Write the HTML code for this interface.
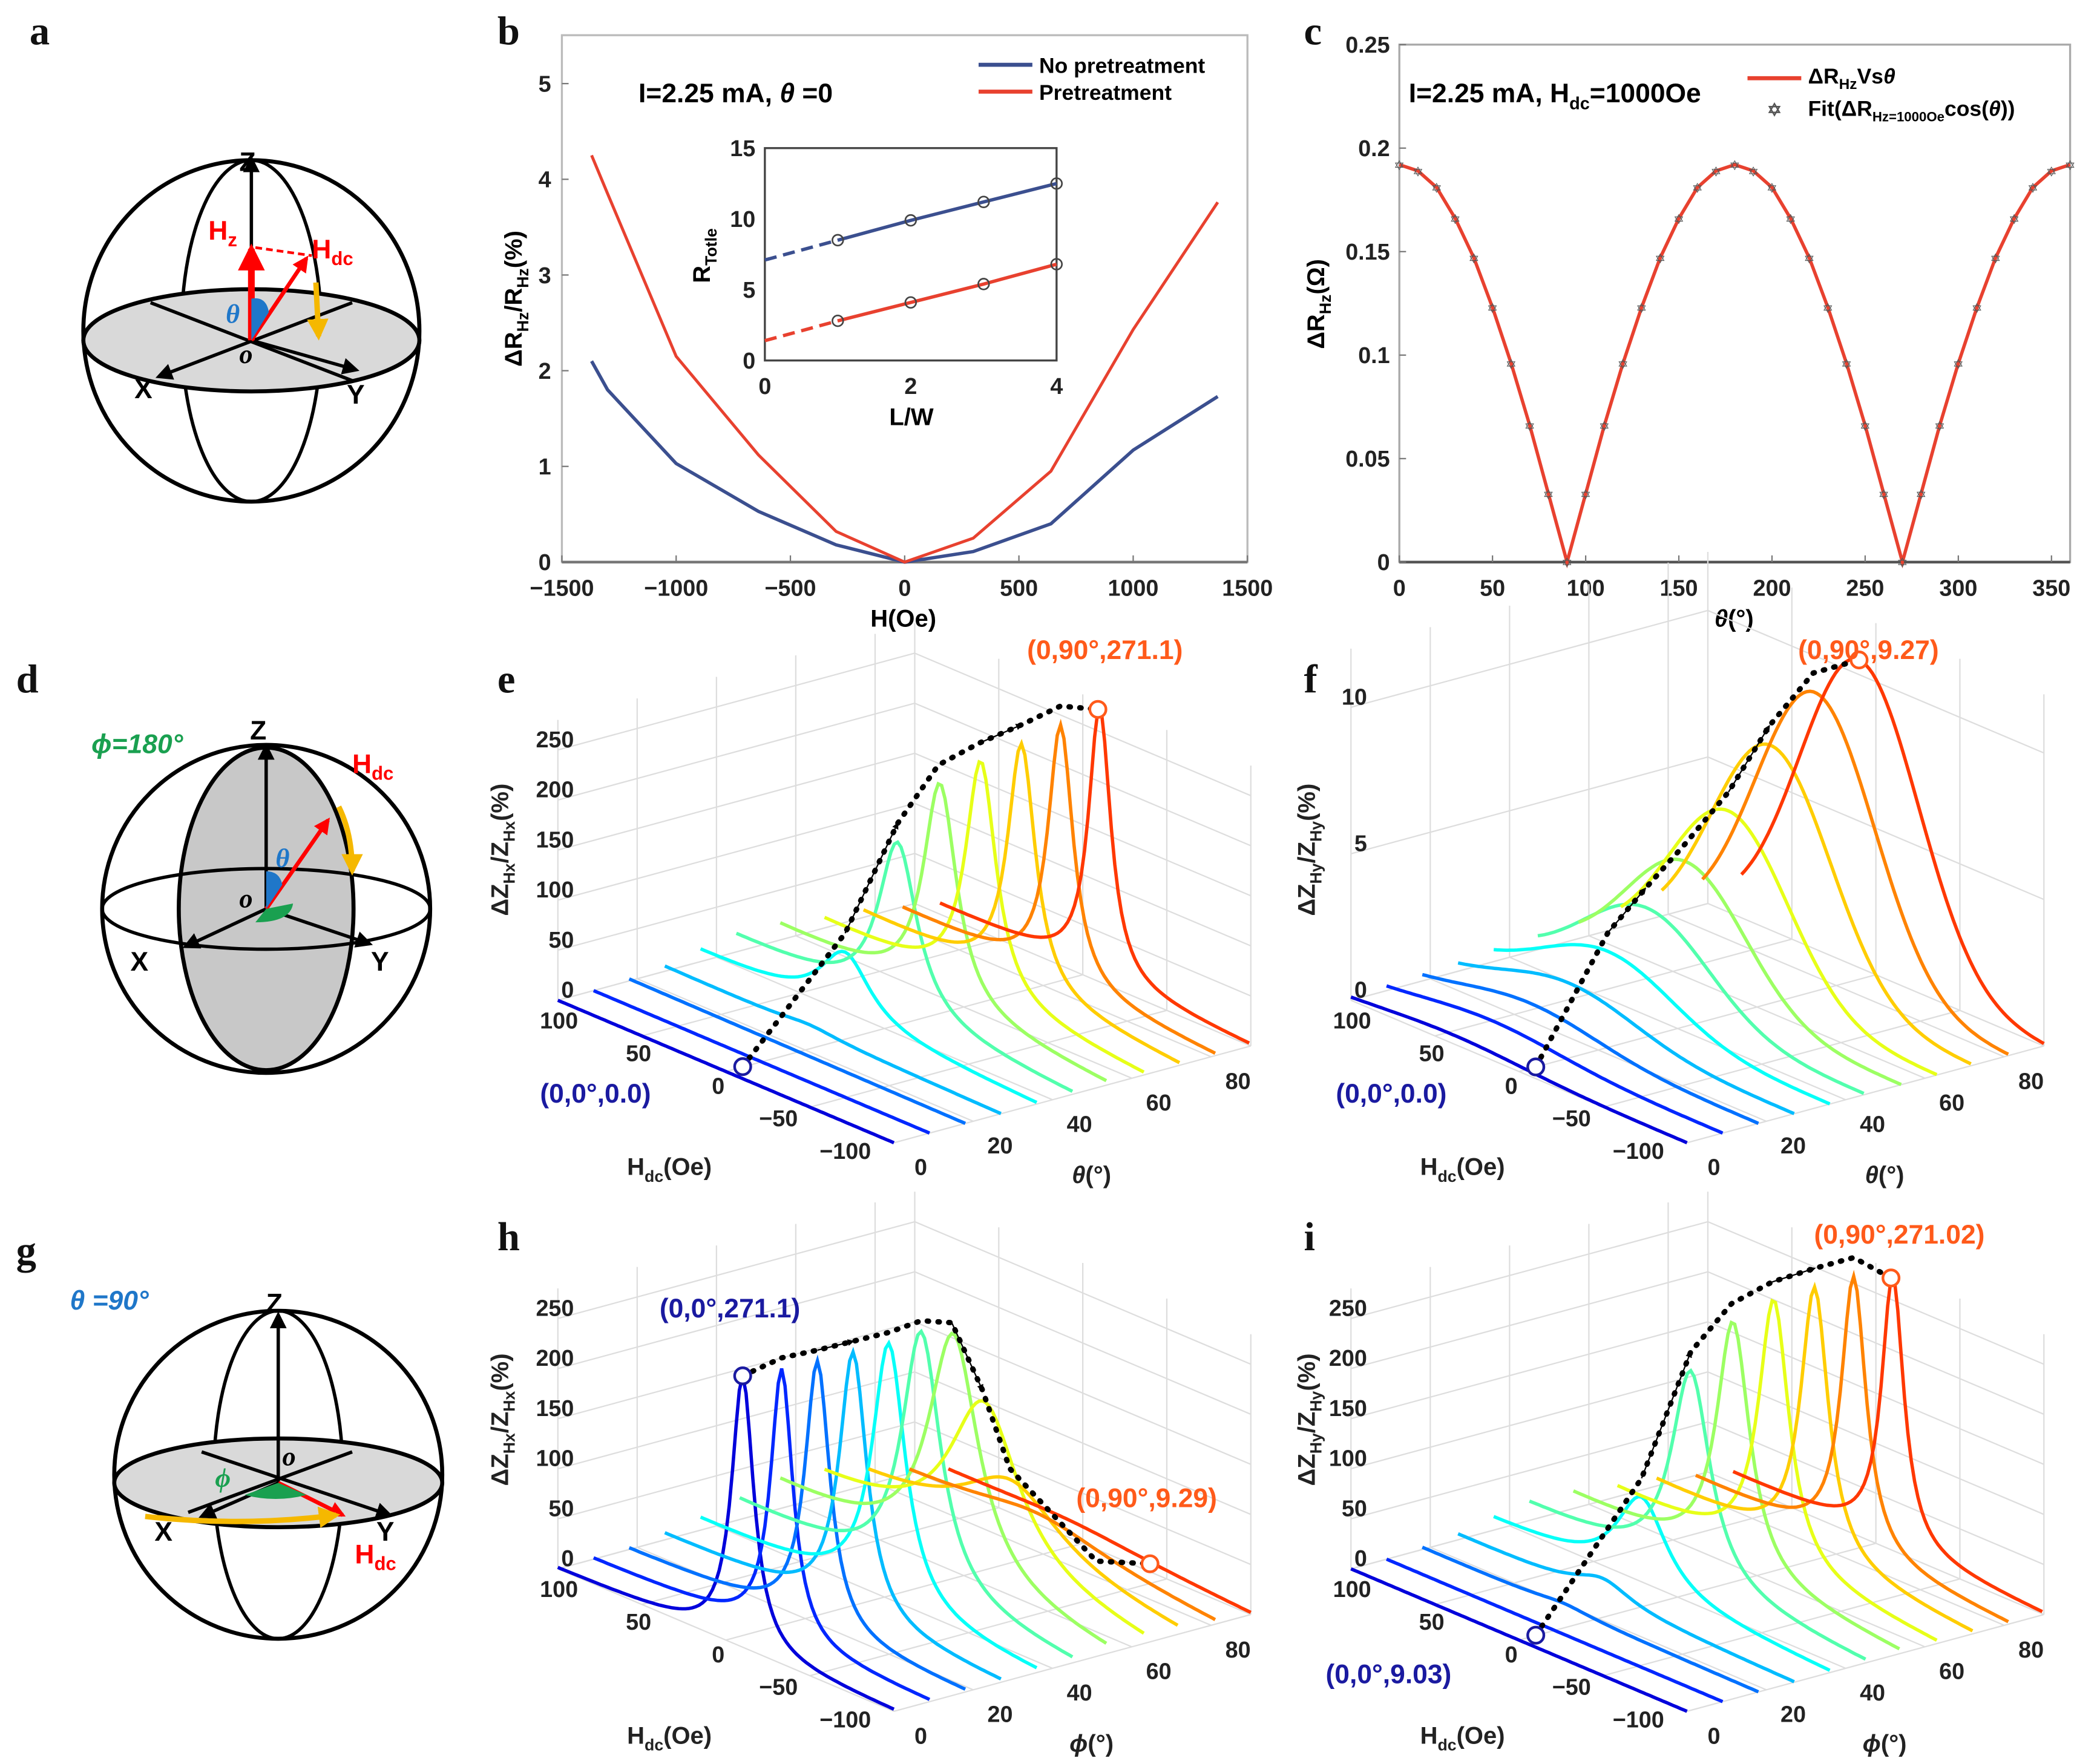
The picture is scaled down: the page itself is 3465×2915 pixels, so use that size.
<!DOCTYPE html>
<html><head><meta charset="utf-8"><style>
html,body{margin:0;padding:0;background:#fff;}
svg{display:block;font-family:"Liberation Sans",sans-serif;}
.t{font-size:17px;font-weight:bold;fill:#222;}
.L{font-family:"Liberation Serif",serif;font-size:30px;font-weight:bold;fill:#111;}
</style></head><body>
<svg id="fig" width="3465" height="2915" viewBox="0 0 1560 1312" xmlns="http://www.w3.org/2000/svg">
<rect width="1560" height="1312" fill="#fff"/>
<g>
<text class="L" x="22" y="33">a</text>
<text class="L" x="370" y="33">b</text>
<text class="L" x="970" y="33">c</text>
<text class="L" x="12" y="515">d</text>
<text class="L" x="370" y="515">e</text>
<text class="L" x="970" y="515">f</text>
<text class="L" x="12" y="940">g</text>
<text class="L" x="370" y="930">h</text>
<text class="L" x="970" y="930">i</text>
</g>
<defs>
<marker id="ab" viewBox="0 0 10 10" refX="8" refY="5" markerWidth="5" markerHeight="5" orient="auto"><path d="M0,0L10,5L0,10z" fill="#000"/></marker>
<marker id="ar" viewBox="0 0 10 10" refX="8" refY="5" markerWidth="4" markerHeight="4" orient="auto"><path d="M0,0L10,5L0,10z" fill="#f00"/></marker>
<marker id="ay" viewBox="0 0 10 10" refX="8" refY="5" markerWidth="4" markerHeight="4" orient="auto"><path d="M0,0L10,5L0,10z" fill="#f5b800"/></marker>
</defs>
<g stroke="#000" stroke-width="3" fill="none">
<ellipse cx="187" cy="246" rx="125" ry="127"/>
<ellipse cx="187" cy="246" rx="52" ry="127" stroke-width="2.5"/>
<ellipse cx="187" cy="253" rx="125" ry="38" fill="#d9d9d9"/>
<line x1="112" y1="225" x2="262" y2="283" stroke-width="2.5"/>
<line x1="262" y1="225" x2="118" y2="280" stroke-width="2.5" marker-end="url(#ab)"/>
<line x1="187" y1="253" x2="265" y2="275" stroke-width="2.5" marker-end="url(#ab)"/>
<line x1="187" y1="253" x2="187" y2="118" stroke-width="2.5" marker-end="url(#ab)"/>
<line x1="187" y1="253" x2="187" y2="185" stroke="#f00" stroke-width="5" marker-end="url(#ar)"/>
<line x1="187" y1="253" x2="228" y2="192" stroke="#f00" stroke-width="3" marker-end="url(#ar)"/>
<line x1="190" y1="184" x2="232" y2="190" stroke="#f00" stroke-width="2" stroke-dasharray="5,3"/>
<line x1="235" y1="210" x2="237" y2="250" stroke="#f5b800" stroke-width="4" marker-end="url(#ay)"/>
<path d="M187,222 Q198,220 200,232 L187,253z" fill="#1f77c9" stroke="none"/>
</g>
<g font-weight="bold" font-size="20">
<text x="178" y="127">Z</text><text x="100" y="296">X</text><text x="258" y="300">Y</text>
<text x="178" y="270" font-style="italic" font-family="Liberation Serif">o</text>
<text x="168" y="240" fill="#1f77c9" font-style="italic" font-family="Liberation Serif">θ</text>
<text x="155" y="178" fill="#f00">H<tspan font-size="14" dy="5">z</tspan></text>
<text x="232" y="192" fill="#f00">H<tspan font-size="14" dy="5">dc</tspan></text>
</g>
<g stroke="#000" stroke-width="3" fill="none">
<ellipse cx="198" cy="676" rx="122" ry="122"/>
<ellipse cx="198" cy="676" rx="65" ry="120" fill="#c8c8c8"/>
<ellipse cx="198" cy="676" rx="122" ry="30" stroke-width="2.5"/>
<line x1="198" y1="676" x2="198" y2="555" stroke-width="2.5" marker-end="url(#ab)"/>
<line x1="198" y1="676" x2="138" y2="704" stroke-width="2.5" marker-end="url(#ab)"/>
<line x1="198" y1="676" x2="275" y2="702" stroke-width="2.5" marker-end="url(#ab)"/>
<line x1="198" y1="676" x2="244" y2="610" stroke="#f00" stroke-width="3" marker-end="url(#ar)"/>
<path d="M252,600 Q262,620 262,648" stroke="#f5b800" stroke-width="4" marker-end="url(#ay)"/>
<path d="M198,648 Q208,648 210,658 L198,676z" fill="#1f77c9" stroke="none"/>
<path d="M198,676 L218,672 Q216,686 190,686z" fill="#1aa050" stroke="none"/>
</g>
<g font-weight="bold" font-size="20">
<text x="186" y="550">Z</text><text x="97" y="722">X</text><text x="276" y="722">Y</text>
<text x="178" y="675" font-style="italic" font-family="Liberation Serif">o</text>
<text x="205" y="645" fill="#1f77c9" font-style="italic" font-family="Liberation Serif">θ</text>
<text x="262" y="575" fill="#f00">H<tspan font-size="14" dy="5">dc</tspan></text>
<text x="68" y="560" fill="#1aa050" font-style="italic">ϕ=180°</text>
</g>
<g stroke="#000" stroke-width="3" fill="none">
<ellipse cx="207" cy="1097" rx="122" ry="122"/>
<ellipse cx="207" cy="1097" rx="48" ry="122" stroke-width="2.5"/>
<ellipse cx="207" cy="1103" rx="122" ry="33" fill="#d9d9d9"/>
<line x1="207" y1="1103" x2="207" y2="978" stroke-width="2.5" marker-end="url(#ab)"/>
<line x1="207" y1="1103" x2="150" y2="1128" stroke-width="2.5" marker-end="url(#ab)"/>
<line x1="150" y1="1080" x2="290" y2="1127" stroke-width="2.5" marker-end="url(#ab)"/>
<line x1="262" y1="1080" x2="140" y2="1125" stroke-width="2.5"/>
<line x1="207" y1="1103" x2="255" y2="1127" stroke="#f00" stroke-width="3" marker-end="url(#ar)"/>
<path d="M108,1128 Q180,1136 250,1127" stroke="#f5b800" stroke-width="4" marker-end="url(#ay)"/>
<path d="M207,1103 L182,1112 Q205,1118 228,1112z" fill="#1aa050" stroke="none"/>
</g>
<g font-weight="bold" font-size="20">
<text x="198" y="976">Z</text><text x="115" y="1146">X</text><text x="280" y="1146">Y</text>
<text x="210" y="1090" font-style="italic" font-family="Liberation Serif">o</text>
<text x="160" y="1106" fill="#1aa050" font-style="italic" font-family="Liberation Serif">ϕ</text>
<text x="264" y="1163" fill="#f00">H<tspan font-size="14" dy="5">dc</tspan></text>
<text x="52" y="974" fill="#1f77c9" font-style="italic">θ =90°</text>
</g>
<g font-weight="bold">
<text x="475" y="76" font-size="20">I=2.25 mA, <tspan font-style="italic">θ</tspan> =0</text>
<line x1="728" y1="48" x2="768" y2="48" stroke="#3b4f8f" stroke-width="3"/>
<text x="773" y="54" font-size="16">No pretreatment</text>
<line x1="728" y1="68" x2="768" y2="68" stroke="#e8412f" stroke-width="3"/>
<text x="773" y="74" font-size="16">Pretreatment</text>
<text x="672" y="466" font-size="18" text-anchor="middle">H(Oe)</text>
<text transform="translate(388,222) rotate(-90)" font-size="18" text-anchor="middle">ΔR<tspan font-size="12" dy="5">Hz</tspan><tspan dy="-5">/R</tspan><tspan font-size="12" dy="5">Hz</tspan><tspan dy="-5">(%)</tspan></text>
<text x="678" y="316" font-size="18" text-anchor="middle">L/W</text>
<text transform="translate(528,190) rotate(-90)" font-size="18" text-anchor="middle">R<tspan font-size="12" dy="5">Totle</tspan></text>
</g>
<g font-weight="bold">
<text x="1048" y="76" font-size="20">I=2.25 mA, H<tspan font-size="13" dy="5">dc</tspan><tspan dy="-5">=1000Oe</tspan></text>
<line x1="1300" y1="58" x2="1340" y2="58" stroke="#e8412f" stroke-width="3"/>
<text x="1345" y="62" font-size="16">ΔR<tspan font-size="11" dy="4">Hz</tspan><tspan dy="-4">Vs</tspan><tspan font-style="italic">θ</tspan></text>
<text x="1320" y="86" font-size="13" text-anchor="middle" fill="#555">✡</text>
<text x="1345" y="86" font-size="16">Fit(ΔR<tspan font-size="10" dy="4">Hz=1000Oe</tspan><tspan dy="-4">cos(</tspan><tspan font-style="italic">θ</tspan>))</text>
<text x="1290" y="466" font-size="18" text-anchor="middle"><tspan font-style="italic">θ</tspan>(°)</text>
<text transform="translate(985,226) rotate(-90)" font-size="18" text-anchor="middle">ΔR<tspan font-size="12" dy="5">Hz</tspan><tspan dy="-5">(Ω)</tspan></text>
</g>
<g font-weight="bold" font-size="18" fill="#222">
<text x="498" y="874" text-anchor="middle">H<tspan font-size="12" dy="5">dc</tspan><tspan dy="-5">(Oe)</tspan></text>
<text x="812" y="880" text-anchor="middle"><tspan font-style="italic">θ</tspan>(°)</text>
<text transform="translate(378,632) rotate(-90)" text-anchor="middle">ΔZ<tspan font-size="12" dy="5">Hx</tspan><tspan dy="-5">/Z</tspan><tspan font-size="12" dy="5">Hx</tspan><tspan dy="-5">(%)</tspan></text>
<text x="1088" y="874" text-anchor="middle">H<tspan font-size="12" dy="5">dc</tspan><tspan dy="-5">(Oe)</tspan></text>
<text x="1402" y="880" text-anchor="middle"><tspan font-style="italic">θ</tspan>(°)</text>
<text transform="translate(978,632) rotate(-90)" text-anchor="middle">ΔZ<tspan font-size="12" dy="5">Hy</tspan><tspan dy="-5">/Z</tspan><tspan font-size="12" dy="5">Hy</tspan><tspan dy="-5">(%)</tspan></text>
<text x="498" y="1297" text-anchor="middle">H<tspan font-size="12" dy="5">dc</tspan><tspan dy="-5">(Oe)</tspan></text>
<text x="812" y="1303" text-anchor="middle"><tspan font-style="italic">ϕ</tspan>(°)</text>
<text transform="translate(378,1056) rotate(-90)" text-anchor="middle">ΔZ<tspan font-size="12" dy="5">Hx</tspan><tspan dy="-5">/Z</tspan><tspan font-size="12" dy="5">Hx</tspan><tspan dy="-5">(%)</tspan></text>
<text x="1088" y="1297" text-anchor="middle">H<tspan font-size="12" dy="5">dc</tspan><tspan dy="-5">(Oe)</tspan></text>
<text x="1402" y="1303" text-anchor="middle"><tspan font-style="italic">ϕ</tspan>(°)</text>
<text transform="translate(978,1056) rotate(-90)" text-anchor="middle">ΔZ<tspan font-size="12" dy="5">Hy</tspan><tspan dy="-5">/Z</tspan><tspan font-size="12" dy="5">Hy</tspan><tspan dy="-5">(%)</tspan></text>
</g>
<g id="gb"></g>
<g id="gc"></g>
<g id="g3"></g>
<g font-weight="bold" font-size="20">
<text x="822" y="490" fill="#ff5a1a" text-anchor="middle">(0,90°,271.1)</text>
<text x="443" y="820" fill="#1a1aa0" text-anchor="middle">(0,0°,0.0)</text>
<text x="1390" y="490" fill="#ff5a1a" text-anchor="middle">(0,90°,9.27)</text>
<text x="1035" y="820" fill="#1a1aa0" text-anchor="middle">(0,0°,0.0)</text>
<text x="543" y="980" fill="#1a1aa0" text-anchor="middle">(0,0°,271.1)</text>
<text x="853" y="1121" fill="#ff5a1a" text-anchor="middle">(0,90°,9.29)</text>
<text x="1413" y="925" fill="#ff5a1a" text-anchor="middle">(0,90°,271.02)</text>
<text x="1033" y="1252" fill="#1a1aa0" text-anchor="middle">(0,0°,9.03)</text>
</g>
<script>
const bH = [-1370,-1300,-1000,-640,-300,0,300,640,1000,1370];
const bNo = [2.1,1.8,1.03,0.53,0.18,0,0.11,0.4,1.17,1.73];
const bPre = [4.25,3.85,2.15,1.12,0.32,0,0.25,0.95,2.43,3.76];
const bXTicks = [-1500,-1000,-500,0,500,1000,1500];
const bYTicks = [0,1,2,3,4,5];
const inLW = [1,2,3,4];
const inUpper = [8.5,9.9,11.2,12.5];
const inLower = [2.8,4.1,5.4,6.8];
const inUpper0 = 7.1, inLower0 = 1.4;
const inXTicks = [0,2,4];
const inYTicks = [0,5,10,15];
const cTheta = [0,10,20,30,40,50,60,70,80,90,100,110,120,130,140,150,160,170,180,190,200,210,220,230,240,250,260,270,280,290,300,310,320,330,340,350,360];
const cDR = [0.192,0.189,0.181,0.166,0.147,0.123,0.096,0.066,0.033,0,0.033,0.066,0.096,0.123,0.147,0.166,0.181,0.189,0.192,0.189,0.181,0.166,0.147,0.123,0.096,0.066,0.033,0,0.033,0.066,0.096,0.123,0.147,0.166,0.181,0.189,0.192];
const cXTicks = [0,50,100,150,200,250,300,350];
const cYTicks = [0,0.05,0.1,0.15,0.2,0.25];
const angles = [0,9,18,27,36,45,54,63,72,81,90];
const ePeak = [0,0,0,5,65,170,220,235,245,258,271];
const eCenter = [20,18,16,14,14,4,0,-3,-6,-8,-10];
const eWidth = [20,20,20,20,18,14,12,11,10,9,8];
const eStart = [100,100,100,100,100,100,95,90,88,86,85];
const eTail = [0,0,2,5,10,15,20,20,20,15,10];
const fPeak = [0.3,0.5,0.8,1.2,2,3.2,4.5,6,8,9.6,10.5];
const fCenter = [40,38,36,34,32,30,28,24,20,15,10];
const fWidth = [60,58,56,55,54,52,50,50,50,50,50];
const fStart = [100,100,100,100,100,95,92,88,85,82,80];
const hPeak = [271,270,268,265,262,258,240,160,70,25,9.3];
const hCenter = [-10,-12,-12,-12,-12,-10,-8,-5,0,5,10];
const hWidth = [8,8,9,10,12,14,18,25,35,50,60];
const hStart = [100,100,100,100,100,98,95,90,85,82,80];
const hTail = [0,0,0,5,10,20,30,30,25,20,15];
const iPeak = [0,0,5,20,90,210,250,265,270,275,271];
const iCenter = [20,18,16,14,12,4,0,-3,-6,-8,-10];
const iWidth = [20,20,20,20,18,14,12,11,10,9,8];
const iStart = [100,100,100,100,100,100,95,90,88,86,85];
const iTail = [0,0,2,5,10,15,20,20,20,15,10];
const zTicksBig = [0,50,100,150,200,250];
const zTicksF = [0,5,10];
const hTicks = [100,50,0,-50,-100];
const tTicks = [0,20,40,60,80];

const NS="http://www.w3.org/2000/svg";
function add(parent,tag,attrs,name){
  const el=document.createElementNS(NS,tag);
  for(const k in attrs) el.setAttribute(k,attrs[k]);
  
  
  parent.appendChild(el);return el;
}
function txt(parent,x,y,s,anchor,name,extra){
  const el=add(parent,'text',Object.assign({x:x,y:y,'text-anchor':anchor||'middle','class':'t'},extra||{}),name);
  el.textContent=s;return el;
}
function fmt(v){return v<0?'−'+Math.abs(v):String(v);}
const gb=document.getElementById('gb');
const bx=v=>418+(v+1500)*510/3000, by=v=>418-v*71.2;
add(gb,'rect',{x:418,y:26,width:510,height:392,fill:'none',stroke:'#bbb','stroke-width':1.5},'axes-box-b');
add(gb,'line',{x1:418,y1:418,x2:928,y2:418,stroke:'#777','stroke-width':2},'x-axis-b');
bXTicks.forEach(v=>{add(gb,'line',{x1:bx(v),y1:418,x2:bx(v),y2:413,stroke:'#777'},'x-tick-b');txt(gb,bx(v),443,fmt(v),'middle','x-tick-label-b');});
bYTicks.forEach(v=>{add(gb,'line',{x1:418,y1:by(v),x2:423,y2:by(v),stroke:'#777'},'y-tick-b');txt(gb,410,by(v)+6,String(v),'end','y-tick-label-b');});
add(gb,'polyline',{points:bH.map((h,i)=>bx(h)+','+by(bNo[i])).join(' '),fill:'none',stroke:'#3b4f8f','stroke-width':2.5},'line-no-pretreatment');
add(gb,'polyline',{points:bH.map((h,i)=>bx(h)+','+by(bPre[i])).join(' '),fill:'none',stroke:'#e8412f','stroke-width':2.2},'line-pretreatment');
const ix=v=>569+v*217/4, iy=v=>268-v*10.53;
add(gb,'rect',{x:569,y:110,width:217,height:158,fill:'#fff',stroke:'#444','stroke-width':1.5},'inset-box');
inXTicks.forEach(v=>txt(gb,ix(v),293,String(v),'middle','inset-x-tick'));
inYTicks.forEach(v=>txt(gb,562,iy(v)+6,String(v),'end','inset-y-tick'));
[[inUpper0,inUpper,'#3b4f8f','inset-upper-line'],[inLower0,inLower,'#e8412f','inset-lower-line']].forEach(([z0,arr,col,nm])=>{
  add(gb,'line',{x1:ix(0),y1:iy(z0),x2:ix(1),y2:iy(arr[0]),stroke:col,'stroke-width':2.5,'stroke-dasharray':'9,5'},nm+'-dashed');
  add(gb,'polyline',{points:inLW.map((l,i)=>ix(l)+','+iy(arr[i])).join(' '),fill:'none',stroke:col,'stroke-width':2.5},nm);
  inLW.forEach((l,i)=>add(gb,'circle',{cx:ix(l),cy:iy(arr[i]),r:4,fill:'none',stroke:'#444','stroke-width':1.2},'inset-marker'));
});
const gc=document.getElementById('gc');
const cx=v=>1041+v*499/360, cy=v=>418-v*1540;
add(gc,'rect',{x:1041,y:33,width:499,height:385,fill:'none',stroke:'#aaa','stroke-width':1.5},'axes-box-c');
add(gc,'line',{x1:1041,y1:418,x2:1540,y2:418,stroke:'#555','stroke-width':2},'x-axis-c');
cXTicks.forEach(v=>{add(gc,'line',{x1:cx(v),y1:418,x2:cx(v),y2:413,stroke:'#777'},'x-tick-c');txt(gc,cx(v),443,String(v),'middle','x-tick-label-c');});
cYTicks.forEach(v=>{add(gc,'line',{x1:1041,y1:cy(v),x2:1046,y2:cy(v),stroke:'#777'},'y-tick-c');txt(gc,1034,cy(v)+6,String(v),'end','y-tick-label-c');});
add(gc,'polyline',{points:cTheta.map((t,i)=>cx(t)+','+cy(cDR[i])).join(' '),fill:'none',stroke:'#e8412f','stroke-width':2.5},'line-dr-vs-theta');
cTheta.forEach((t,i)=>{txt(gc,cx(t),cy(cDR[i])+4,'✡','middle','fit-marker',{'class':'','font-size':'10',fill:'#555'});});
const g3=document.getElementById('g3');
function jet(v){const c=x=>Math.round(255*Math.max(0,Math.min(1,x)));return 'rgb('+c(1.5-Math.abs(4*v-3))+','+c(1.5-Math.abs(4*v-2))+','+c(1.5-Math.abs(4*v-1))+')';}
function panel(ox,oy,zs,zmax,zticks,peak,center,width,start,tail,gauss,path,z0,name){
  const P=(h,t,z)=>[ox-(h+100)*1.25+t*2.95, oy-(h+100)*0.53-t*0.8-z*zs];
  const g=add(g3,'g',{},name);
  const ln=(a,b,nm)=>add(g,'line',{x1:a[0],y1:a[1],x2:b[0],y2:b[1],stroke:'#ddd','stroke-width':1},nm);
  zticks.forEach(z=>{ln(P(100,0,z),P(100,90,z),'grid-z');ln(P(100,90,z),P(-100,90,z),'grid-z');});
  [0,20,40,60,80].forEach(t=>{ln(P(100,t,0),P(100,t,zmax),'grid-t');ln(P(100,t,0),P(-100,t,0),'grid-floor');});
  [100,50,0,-50,-100].forEach(h=>{ln(P(h,90,0),P(h,90,zmax),'grid-h');ln(P(h,0,0),P(h,90,0),'grid-floor');});
  hTicks.forEach(h=>txt(g,ox-126-1.09*h,oy-36.5-0.485*h,fmt(h),'end','hdc-tick-label'));
  tTicks.forEach(t=>{const p=P(-100,t,0);txt(g,p[0]+20,p[1]+24,String(t),'middle','angle-tick-label');});
  zticks.forEach(z=>{const p=P(100,0,z);txt(g,p[0]+12,p[1]-2,String(z),'end','z-tick-label');});
  const peakPts=[];
  angles.forEach((t,k)=>{
    const pts=[];let best=null;
    for(let h=start[k];h>=-100;h-=2){
      const d=(h-center[k])/width[k];
      let z=gauss?peak[k]*Math.exp(-d*d):peak[k]/(1+d*d);
      if(tail) z+=tail[k]*(h+100)/200;
      const p=P(h,t,z);pts.push(p[0].toFixed(1)+','+p[1].toFixed(1));
      if(!best||z>best.z) best={z:z,p:p};
    }
    peakPts.push(best);
    add(g,'polyline',{points:pts.join(' '),fill:'none',stroke:jet(0.09+k*0.073),'stroke-width':2.5},'curve-angle-'+t);
  });
  const pp=path(P,peakPts,z0);
  add(g,'polyline',{points:pp.map(p=>p[0]+','+p[1]).join(' '),fill:'none',stroke:'#000','stroke-width':4,'stroke-dasharray':'1,7','stroke-linecap':'round'},'trend-path');
  [Math.floor(pp.length/3),Math.floor(2*pp.length/3)].forEach(i=>{const a=pp[i-1],b=pp[i];
    add(g,'line',{x1:a[0],y1:a[1],x2:b[0],y2:b[1],stroke:'#000','stroke-width':1,'marker-end':'url(#ab)'},'trend-arrow');});
  add(g,'circle',{cx:pp[0][0],cy:pp[0][1],r:6,fill:'#fff',stroke:'#1a1aa0','stroke-width':2},'start-marker');
  const e=pp[pp.length-1];
  add(g,'circle',{cx:e[0],cy:e[1],r:6,fill:'#fff',stroke:'#ff5a1a','stroke-width':2},'end-marker');
}
const upPath=(P,pk,z0)=>{const s=P(-10,0,z0);const arr=[s];[4,5,6,7,8,9,10].forEach(k=>{const p=pk[k].p;arr.push([p[0],p[1]-(k<10?14:0)]);});return arr;};
const downPath=(P,pk,z0)=>{const arr=[];[0,1,2,3,4,5,6,7,8].forEach(k=>{const p=pk[k].p;arr.push([p[0],p[1]-(k>0?8:0)]);});const e=P(-40,90,z0);arr.push([e[0]-40,e[1]-2]);arr.push(e);return arr;};
panel(665,850,0.745,280,zTicksBig,ePeak,eCenter,eWidth,eStart,eTail,false,upPath,12,'chart-e');
panel(1255,850,21.8,12,zTicksF,fPeak,fCenter,fWidth,fStart,null,true,upPath,0.4,'chart-f');
panel(665,1273,0.745,280,zTicksBig,hPeak,hCenter,hWidth,hStart,hTail,false,downPath,8,'chart-h');
panel(1255,1273,0.745,280,zTicksBig,iPeak,iCenter,iWidth,iStart,iTail,false,upPath,12,'chart-i');
</script>
</svg>
</body></html>
